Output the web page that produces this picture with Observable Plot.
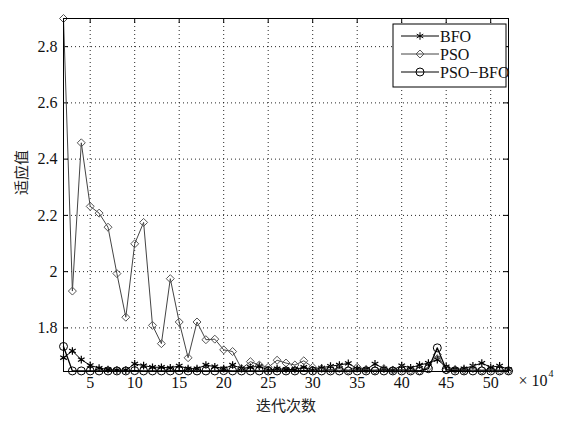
<!DOCTYPE html>
<html><head><meta charset="utf-8">
<script src="https://cdn.jsdelivr.net/npm/d3@7"></script>
<script src="https://cdn.jsdelivr.net/npm/@observablehq/plot@0.6"></script>
<style>
body{margin:0;background:#fff}
#chart g[aria-label="x-axis tick label"] text,
#chart g[aria-label="y-axis tick label"] text,
#chart .serif, #chart .serif text {font-family:"Liberation Serif","Times New Roman",serif !important;}
</style>
</head><body><div id="chart"></div>
<script>
const iterations = [2,3,4,5,6,7,8,9,10,11,12,13,14,15,16,17,18,19,20,21,22,23,24,25,26,27,28,29,30,31,32,33,34,35,36,37,38,39,40,41,42,43,44,45,46,47,48,49,50,51,52];
const bfo = [1.694,1.718,1.687,1.667,1.657,1.652,1.650,1.650,1.672,1.666,1.660,1.660,1.658,1.665,1.655,1.655,1.668,1.662,1.655,1.668,1.656,1.660,1.664,1.650,1.655,1.652,1.652,1.660,1.650,1.658,1.664,1.668,1.674,1.655,1.652,1.672,1.655,1.650,1.666,1.658,1.668,1.675,1.687,1.662,1.652,1.655,1.665,1.675,1.660,1.665,1.652];
const pso = [2.900,1.931,2.458,2.232,2.208,2.158,1.993,1.838,2.099,2.175,1.809,1.744,1.975,1.821,1.694,1.821,1.758,1.760,1.722,1.716,1.655,1.680,1.668,1.660,1.685,1.675,1.668,1.683,1.660,1.655,1.652,1.655,1.650,1.660,1.652,1.650,1.655,1.650,1.652,1.650,1.648,1.660,1.705,1.650,1.652,1.650,1.655,1.650,1.652,1.650,1.648];
const psoBfo = [1.734,1.647,1.647,1.647,1.647,1.647,1.647,1.647,1.648,1.647,1.647,1.647,1.647,1.648,1.647,1.647,1.647,1.647,1.648,1.647,1.647,1.647,1.647,1.647,1.647,1.647,1.647,1.648,1.647,1.647,1.647,1.647,1.647,1.647,1.647,1.647,1.647,1.647,1.647,1.647,1.647,1.655,1.729,1.652,1.647,1.647,1.647,1.647,1.647,1.647,1.647];
const xTicks = [5,10,15,20,25,30,35,40,45,50];
const yTicks = [1.8,2.0,2.2,2.4,2.6,2.8];
const yTickLabels = ["1.8","2","2.2","2.4","2.6","2.8"];
const seriesNames = ["BFO","PSO","PSO\u2212BFO"];
const xLabel = "迭代次数";
const yLabel = "适应值";

const SERIF = "'Liberation Serif','Times New Roman',serif";
const CJK = "'Noto Sans CJK SC',sans-serif";
const W = 566, H = 424;
const mL = 63, mR = 58, mT = 18, mB = 53;
const pw = W - mL - mR, ph = H - mT - mB;

const rows = (vals) => iterations.map((x, i) => ({x, y: vals[i]}));
const dBFO = rows(bfo), dPSO = rows(pso), dPB = rows(psoBfo);

const grid = {stroke: "#000", strokeOpacity: 0.85, strokeDasharray: "1,3", strokeWidth: 1};

const chart = Plot.plot({
  width: W, height: H,
  marginLeft: mL, marginRight: mR, marginTop: mT, marginBottom: mB,
  style: {fontSize: "15px", fontFamily: SERIF, background: "#fff"},
  x: {domain: [2, 52]},
  y: {domain: [1.645, 2.9]},
  marks: [
    Plot.gridX(xTicks, grid),
    Plot.gridY(yTicks, grid),
    Plot.tickY(yTicks, {y: d => d, insetRight: pw - 5, stroke: "#000"}),
    Plot.tickY(yTicks, {y: d => d, insetLeft: pw - 5, stroke: "#000"}),
    Plot.tickX(xTicks, {x: d => d, insetTop: ph - 5, stroke: "#000"}),
    Plot.tickX(xTicks, {x: d => d, insetBottom: ph - 5, stroke: "#000"}),
    Plot.line(dBFO, {x: "x", y: "y", stroke: "#000", strokeWidth: 1}),
    Plot.dot(dBFO, {x: "x", y: "y", symbol: "asterisk", r: 3.6, stroke: "#000", strokeWidth: 1.2}),
    Plot.line(dPSO, {x: "x", y: "y", stroke: "#444", strokeWidth: 1}),
    Plot.dot(dPSO, {x: "x", y: "y", symbol: "diamond2", r: 3.6, stroke: "#555", fill: "none", strokeWidth: 1}),
    Plot.line(dPB, {x: "x", y: "y", stroke: "#000", strokeWidth: 1.3}),
    Plot.dot(dPB, {x: "x", y: "y", symbol: "circle", r: 4, stroke: "#000", fill: "none", strokeWidth: 1}),
    Plot.frame({stroke: "#000", strokeWidth: 1}),
    Plot.axisX(xTicks, {tickSize: 0, tickPadding: 5, label: null, fontSize: 16, fontFamily: SERIF, fill: "#111"}),
    Plot.axisY(yTicks, {tickSize: 0, tickPadding: 6, label: null, fontSize: 16, fontFamily: SERIF, fill: "#111", tickFormat: (d) => yTickLabels[yTicks.indexOf(d)]}),
    Plot.text([xLabel], {frameAnchor: "bottom", dy: 35, lineAnchor: "middle", fontSize: 15, fontFamily: CJK, fill: "#222"}),
    Plot.text([yLabel], {frameAnchor: "left", dx: -41, rotate: -90, fontSize: 15, fontFamily: CJK, fill: "#222"}),
    Plot.text(["\u00d7 10"], {frameAnchor: "bottom-right", dx: 10, dy: 9, textAnchor: "start", lineAnchor: "middle", fontSize: 16, fontFamily: SERIF, fill: "#111", className: "serif"}),
    Plot.text(["4"], {frameAnchor: "bottom-right", dx: 40, dy: 2, textAnchor: "start", lineAnchor: "middle", fontSize: 10, fontFamily: SERIF, fill: "#111", className: "serif"})
  ]
});
document.getElementById("chart").appendChild(chart);

// legend
const svg = d3.select(chart);
const lg = svg.append("g").attr("transform", "translate(393,24)");
lg.append("rect").attr("width", 113).attr("height", 63).attr("fill", "#fff").attr("stroke", "#000");
const entries = [
  {name: seriesNames[0], sym: d3.symbolAsterisk, stroke: "#000", line: "#000"},
  {name: seriesNames[1], sym: d3.symbolDiamond2, stroke: "#555", line: "#444"},
  {name: seriesNames[2], sym: d3.symbolCircle, stroke: "#000", line: "#000"}
];
entries.forEach((e, i) => {
  const y = 12 + i * 18;
  lg.append("line").attr("x1", 8).attr("x2", 46).attr("y1", y).attr("y2", y).attr("stroke", e.line);
  lg.append("path").attr("d", d3.symbol(e.sym, e.sym === d3.symbolCircle ? 50 : 40)()).attr("transform", `translate(27,${y})`).attr("fill", "none").attr("stroke", e.stroke);
  lg.append("text").attr("x", 47).attr("y", y).attr("dy", "0.35em")
    .attr("text-anchor", "start").style("text-anchor", "start")
    .style("font-family", SERIF).style("font-size", "16px").attr("fill", "#111").text(e.name);
});
</script>
</body></html>
